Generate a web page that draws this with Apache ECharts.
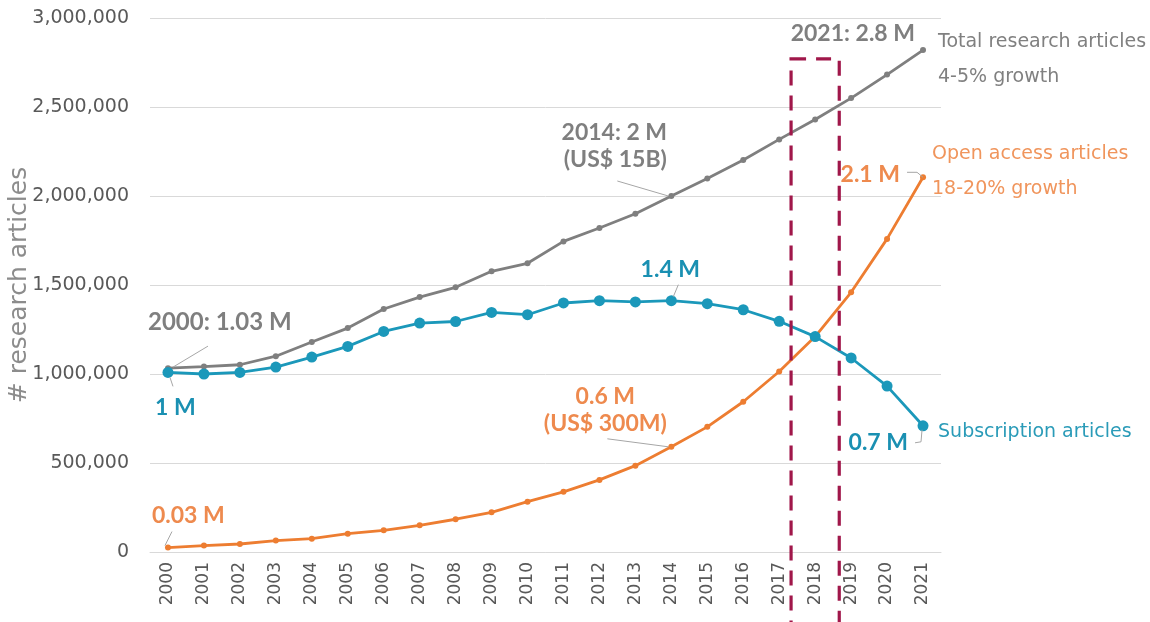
<!DOCTYPE html>
<html><head><meta charset="utf-8">
<script src="https://cdn.jsdelivr.net/npm/echarts@6/dist/echarts.min.js"></script>
<style>html,body{margin:0;padding:0;background:#fff}#c{width:1150px;height:622px}</style>
</head><body><div id="c"></div>
<script>
const years = ['2000','2001','2002','2003','2004','2005','2006','2007','2008','2009','2010','2011','2012','2013','2014','2015','2016','2017','2018','2019','2020','2021'];
const total = [1033000,1042000,1052000,1100000,1180000,1258000,1365000,1432000,1487000,1577000,1622000,1745000,1820000,1900000,2000000,2098000,2202000,2318000,2430000,2550000,2682000,2820000];
const openAccess = [25000,36000,45000,64000,75000,103000,122000,150000,184000,223000,283000,338000,405000,485000,591000,703000,844000,1014000,1210000,1459000,1759000,2105000];
const subscription = [1009000,1000000,1009000,1039000,1095000,1155000,1239000,1286000,1295000,1346000,1333000,1399000,1412000,1405000,1412000,1395000,1361000,1296000,1210000,1090000,932000,709000];

const AX = "'DejaVu Sans',sans-serif";
const BD = "Lato,'Open Sans',sans-serif";
const GRAY='#7f7f7f', ORANGE='#ed7d31', TEAL='#1b98ba', RED='#a0174a';
const TXT_OR='#ee8a4e', TXT_TEAL='#1a90b2', LEAD='#a6a6a6';

const chart = echarts.init(document.getElementById('c'));
chart.setOption({
  animation:false,
  grid:{left:150,right:209,top:18,bottom:70,containLabel:false,outerBoundsMode:'none'},
  xAxis:{type:'category',data:years,boundaryGap:true,
    axisLine:{lineStyle:{color:'#d9d9d9'}},axisTick:{show:false},
    axisLabel:{rotate:90,interval:0,fontSize:17,color:'#595959',fontFamily:AX,margin:10}},
  yAxis:{type:'value',min:0,max:3000000,interval:500000,
    axisLabel:{formatter:v=>v.toLocaleString('en-US'),fontSize:19,color:'#595959',fontFamily:AX,margin:21},
    splitLine:{lineStyle:{color:'#d9d9d9'}},axisLine:{show:false},axisTick:{show:false},
    name:'# research articles',nameLocation:'middle',nameGap:118,nameMoveOverlap:false,
    nameTextStyle:{fontSize:25,color:'#8c8c8c',fontFamily:AX}},
  series:[
    {name:'Total research articles',type:'line',data:total,symbol:'circle',symbolSize:6,
      lineStyle:{color:GRAY,width:2.8},itemStyle:{color:GRAY},z:2},
    {name:'Open access articles',type:'line',data:openAccess,symbol:'circle',symbolSize:6,
      lineStyle:{color:ORANGE,width:2.8},itemStyle:{color:ORANGE},z:3},
    {name:'Subscription articles',type:'line',data:subscription,symbol:'circle',symbolSize:11,
      lineStyle:{color:TEAL,width:2.8},itemStyle:{color:TEAL},z:4}
  ]
});

const notes = [
  {s:total,i:0,dx:-20,dy:-46,t:'2000: 1.03 M',c:GRAY,a:'left',b:true,f:24},
  {s:subscription,i:0,dx:-13,dy:35,t:'1 M',c:TXT_TEAL,a:'left',b:true},
  {s:openAccess,i:0,dx:-16,dy:-32,t:'0.03 M',c:TXT_OR,a:'left',b:true},
  {s:subscription,i:14,dx:-1,dy:-31,t:'1.4 M',c:TXT_TEAL,a:'center',b:true},
  {s:total,i:14,dx:-57,dy:-63,t:'2014: 2 M',c:GRAY,a:'center',b:true},
  {s:total,i:14,dx:-56,dy:-36,t:'(US$ 15B)',c:GRAY,a:'center',b:true},
  {s:openAccess,i:14,dx:-66,dy:-50,t:'0.6 M',c:TXT_OR,a:'center',b:true},
  {s:openAccess,i:14,dx:-66,dy:-23,t:'(US$ 300M)',c:TXT_OR,a:'center',b:true},
  {s:total,i:21,dx:-8,dy:-16,t:'2021: 2.8 M',c:GRAY,a:'right',b:true},
  {s:total,i:21,dx:15,dy:-8,t:'Total research articles',c:'#808080',a:'left',b:false},
  {s:total,i:21,dx:15,dy:27,t:'4-5% growth',c:'#808080',a:'left',b:false},
  {s:openAccess,i:21,dx:9,dy:-23,t:'Open access articles',c:'#f0955c',a:'left',b:false},
  {s:openAccess,i:21,dx:9,dy:12,t:'18-20% growth',c:'#f0955c',a:'left',b:false},
  {s:openAccess,i:21,dx:-23,dy:-3,t:'2.1 M',c:TXT_OR,a:'right',b:true},
  {s:subscription,i:21,dx:15,dy:6,t:'Subscription articles',c:'#2a9bb8',a:'left',b:false},
  {s:subscription,i:21,dx:-15,dy:17,t:'0.7 M',c:TXT_TEAL,a:'right',b:true}
];
const leaders = [
  {s:total,i:0,p:[[40,-22],[5,-1]]},
  {s:subscription,i:0,p:[[2,5],[5,14]]},
  {s:openAccess,i:0,p:[[4,-16],[-3,-2]]},
  {s:subscription,i:14,p:[[7,-16],[2,-4]]},
  {s:total,i:14,p:[[-54,-15],[-3,0]]},
  {s:openAccess,i:14,p:[[-64,-8],[-3,0]]},
  {s:openAccess,i:21,p:[[-16,-5],[-6,-5],[0,0]]},
  {s:subscription,i:21,p:[[-1,4],[-2,16],[-8,17]]}
];

function px(i,v){return chart.convertToPixel({xAxisIndex:0,yAxisIndex:0},[i,v]);}
const els=[];
notes.forEach(n=>{
  const p=px(n.i,n.s[n.i]);
  els.push({type:'text',z:10,style:{text:n.t,x:p[0]+n.dx,y:p[1]+n.dy,
    font:(n.b?'bold '+(n.f||23)+'px '+BD:'19px '+AX),fill:n.c,
    align:n.a,verticalAlign:'middle',textAlign:n.a,textVerticalAlign:'middle'}});
});
leaders.forEach(l=>{
  const p=px(l.i,l.s[l.i]);
  els.push({type:'polyline',z:9,shape:{points:l.p.map(q=>[p[0]+q[0],p[1]+q[1]])},
    style:{stroke:LEAD,lineWidth:1,fill:null}});
});
// dashed highlight box around 2017-2018
const a=px(17,0), b=px(18,0), step=b[0]-a[0];
const x1=a[0]+step*0.33, x2=b[0]+step*0.67, yTop=px(0,2770000)[1];
els.push({type:'rect',z:12,shape:{x:x1,y:yTop,width:x2-x1,height:624-yTop},
  style:{fill:null,stroke:RED,lineWidth:3.2,lineDash:[15,10]}});
chart.setOption({graphic:{elements:els}});
</script></body></html>
